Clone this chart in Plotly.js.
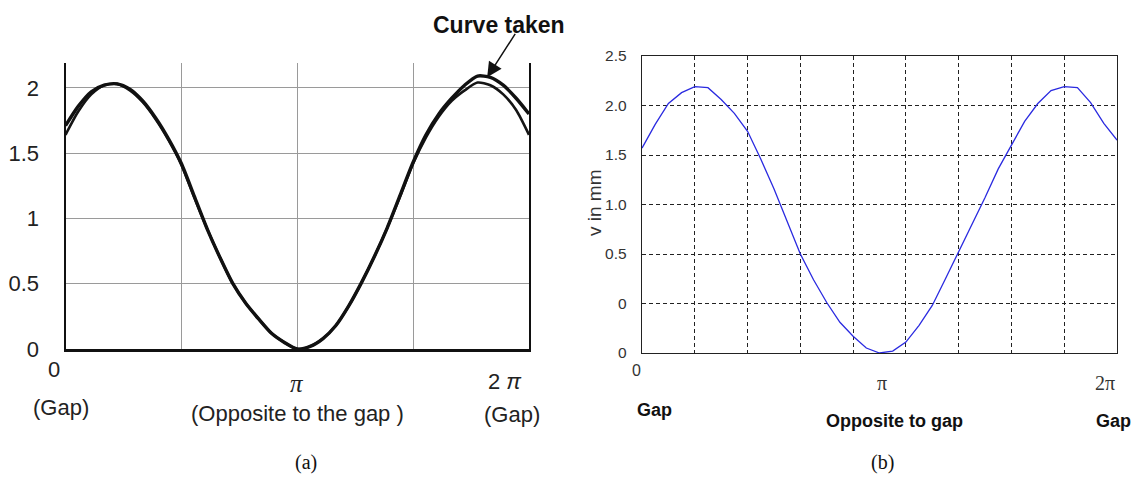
<!DOCTYPE html>
<html>
<head>
<meta charset="utf-8">
<script src="https://cdn.plot.ly/plotly-3.0.1.min.js"></script>
<style>html,body{margin:0;padding:0;background:#fff}#chart{width:1135px;height:477px}</style>
</head>
<body>
<div id="chart"></div>
<script>
// ---- Data (angle in degrees around the ring; 180 = pi, 360 = 2pi) ----
const anglesA = [0,10,20,30,40,50,60,70,80,90,100,110,120,130,140,150,160,170,180,190,200,210,220,230,240,250,260,270,280,290,300,310,320,330,340,350,360];
const curveTaken = [1.71,1.86,1.97,2.02,2.03,1.99,1.90,1.77,1.61,1.42,1.17,0.92,0.70,0.50,0.35,0.23,0.12,0.05,0.00,0.02,0.08,0.18,0.33,0.51,0.71,0.93,1.18,1.43,1.64,1.80,1.92,2.02,2.09,2.08,2.02,1.92,1.80];
const curveOther = [1.64,1.82,1.95,2.02,2.03,1.98,1.89,1.76,1.60,1.41,1.16,0.92,0.70,0.50,0.35,0.23,0.12,0.05,0.00,0.02,0.08,0.18,0.33,0.51,0.71,0.93,1.17,1.42,1.62,1.78,1.90,1.98,2.04,2.02,1.95,1.83,1.64];

const anglesB = [0,10,20,30,40,50,60,70,80,90,100,110,120,130,140,150,160,170,180,190,200,210,220,230,240,250,260,270,280,290,300,310,320,330,340,350,360];
const displacementB = [1.57,1.81,2.02,2.13,2.19,2.18,2.06,1.92,1.74,1.46,1.16,0.82,0.50,0.24,0.01,-0.19,-0.33,-0.45,-0.50,-0.48,-0.39,-0.22,-0.02,0.25,0.52,0.80,1.07,1.36,1.60,1.84,2.02,2.15,2.19,2.18,2.03,1.82,1.65];

// ---- Tick labels ----
const yTickValsA = [0, 0.5, 1, 1.5, 2];
const yTickTextA = ['0', '0.5', '1', '1.5', '2'];
const xGridA = [90, 180, 270];
const yTickValsB = [-0.5, 0, 0.5, 1, 1.5, 2, 2.5];
const yTickTextB = ['0', '0', '0.5', '1.0', '1.5', '2.0', '2.5'];
const xGridB = [40, 80, 120, 160, 200, 240, 280, 320];

const sansA = 'Liberation Sans, Arial, sans-serif';
const serif = 'Liberation Serif, Times New Roman, serif';

const traces = [
  {x: anglesA, y: curveOther, xaxis: 'x', yaxis: 'y', mode: 'lines', line: {color: '#151515', width: 2.6, shape: 'spline', smoothing: 0.7}, hoverinfo: 'skip'},
  {x: anglesA, y: curveTaken, xaxis: 'x', yaxis: 'y', mode: 'lines', line: {color: '#111', width: 3.4, shape: 'spline', smoothing: 0.7}, hoverinfo: 'skip'},
  {x: anglesB, y: displacementB, xaxis: 'x2', yaxis: 'y2', mode: 'lines', line: {color: '#2a2ae0', width: 1.3}, hoverinfo: 'skip'}
];

const annA = (x, y, text, xs, ys, font) => ({x: x, y: y, xref: 'x', yref: 'y', text: text, showarrow: false, xshift: xs, yshift: ys, font: font, xanchor: 'center', yanchor: 'middle'});
const annB = (x, y, text, xs, ys, font) => ({x: x, y: y, xref: 'x2', yref: 'y2', text: text, showarrow: false, xshift: xs, yshift: ys, font: font, xanchor: 'center', yanchor: 'middle'});
const annP = (px, py, text, font, extra) => Object.assign({x: px/1135, y: (477-py)/477, xref: 'paper', yref: 'paper', text: text, showarrow: false, font: font, xanchor: 'center', yanchor: 'middle'}, extra || {});
const fA = {family: sansA, size: 22, color: '#222'};
const fB = {family: sansA, size: 15.5, color: '#333'};

const annotations = [
  annA(0, 0, '0', -12, -20, fA),
  annA(180, 0, '<i>π</i>', 0, -34, {family: serif, size: 25, color: '#222'}),
  annA(360, 0, '2 <i>π</i>', -24, -32, {family: sansA, size: 22, color: '#222'}),
  annA(0, 0, '(Gap)', -5, -58, fA),
  annA(180, 0, '(Opposite to the gap )', 0, -64, fA),
  annA(360, 0, '(Gap)', -17, -65, fA),
  annP(499, 25, '<b>Curve taken</b>', {family: sansA, size: 23, color: '#111'}),
  {x: 327.5, y: 2.08, xref: 'x', yref: 'y', text: '', showarrow: true, ax: 29, ay: -45,
   arrowhead: 2, arrowsize: 2, arrowwidth: 1.5, arrowcolor: '#111', standoff: 0},
  annB(0, -0.5, '0', -6, -17, {family: sansA, size: 16, color: '#333'}),
  annB(180, -0.5, 'π', 2, -30, {family: serif, size: 20, color: '#333'}),
  annB(360, -0.5, '2π', -12, -30, {family: serif, size: 20, color: '#333'}),
  annB(0, -0.5, '<b>Gap</b>', 12, -57, {family: sansA, size: 18, color: '#111'}),
  annB(180, -0.5, '<b>Opposite to gap</b>', 15, -68, {family: sansA, size: 18, color: '#111'}),
  annB(360, -0.5, '<b>Gap</b>', -4, -68, {family: sansA, size: 18, color: '#111'}),
  annP(594, 203, 'v in mm', {family: sansA, size: 19, color: '#333'}, {textangle: -90}),
  annP(306, 462, '(a)', {family: serif, size: 20, color: '#111'}),
  annP(882, 462, '(b)', {family: serif, size: 20, color: '#111'})
];

const layout = {
  width: 1135, height: 477,
  margin: {l: 0, r: 0, t: 0, b: 0},
  paper_bgcolor: '#fff', plot_bgcolor: '#fff',
  showlegend: false,
  xaxis: {domain: [65.5/1135, 529/1135], range: [0, 360], tickmode: 'array', tickvals: xGridA, showticklabels: false,
          ticks: '', showgrid: true, gridcolor: '#9a9a9a', gridwidth: 1, zeroline: false,
          showline: true, linecolor: '#111', linewidth: 2.5, mirror: false, anchor: 'y'},
  yaxis: {domain: [(477-349)/477, (477-63)/477], range: [0, 2.19], tickmode: 'array', tickvals: yTickValsA, ticktext: yTickTextA,
          tickfont: {family: sansA, size: 22, color: '#222'}, ticks: '', ticklabelstandoff: 20,
          showgrid: true, gridcolor: '#9a9a9a', gridwidth: 1, zeroline: false,
          showline: true, linecolor: '#111', linewidth: 2, mirror: true, anchor: 'x'},
  xaxis2: {domain: [642/1135, 1117/1135], range: [0, 360], tickmode: 'array', tickvals: xGridB, showticklabels: false,
           ticks: '', showgrid: true, gridcolor: '#222', gridwidth: 1, griddash: '4px,3px', zeroline: false,
           showline: true, linecolor: '#222', linewidth: 1.3, mirror: true, anchor: 'y2'},
  yaxis2: {domain: [(477-353)/477, (477-56)/477], range: [-0.5, 2.5], tickmode: 'array', tickvals: yTickValsB, ticktext: yTickTextB,
           tickfont: fB, ticks: '', ticklabelstandoff: 11,
           showgrid: true, gridcolor: '#222', gridwidth: 1, griddash: '4px,3px', zeroline: false,
           showline: true, linecolor: '#222', linewidth: 1.3, mirror: true, anchor: 'x2'},
  annotations: annotations
};

Plotly.newPlot('chart', traces, layout, {staticPlot: true, displayModeBar: false});
</script>
</body>
</html>
